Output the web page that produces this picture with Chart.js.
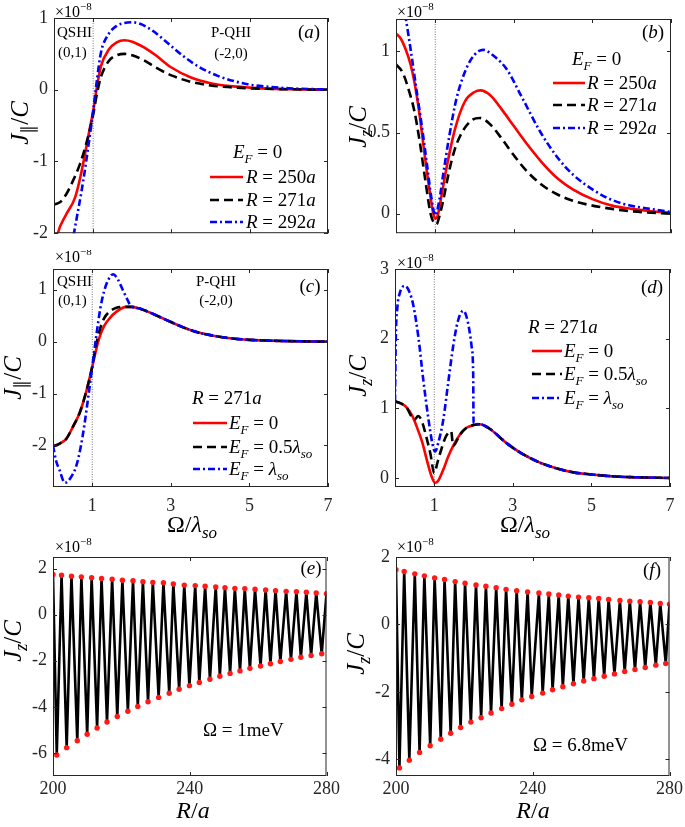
<!DOCTYPE html>
<html>
<head>
<meta charset="utf-8">
<script src="https://cdn.jsdelivr.net/npm/chart.js@4.4.1/dist/chart.umd.min.js"></script>
<style>
  body { margin: 0; background: #fff; }
  #wrap { position: relative; width: 685px; height: 827px; overflow: hidden; }
  #wrap canvas { position: absolute; }
</style>
</head>
<body>
<div id="wrap"></div>
<script>
// ---------- data (values in units of 1e-8) ----------
const omegaTicks = [1, 3, 5, 7];
const radiusTicks = [200, 240, 280];

// (a) J_par/C vs Omega/lambda_so, E_F = 0
const aRedX = [0, 0.1, 0.3, 0.54, 0.7, 0.9, 1.0, 1.1, 1.2, 1.4, 1.6, 1.8, 2.0, 2.3, 2.6, 3.0, 3.5, 4.0, 4.5, 5.0, 5.5, 6.0, 7.0];
const aRedY = [-2.3, -2.0, -1.75, -1.5, -1.15, -0.58, -0.3, 0.05, 0.33, 0.56, 0.66, 0.69, 0.67, 0.59, 0.48, 0.31, 0.17, 0.09, 0.05, 0.03, 0.015, 0.007, 0];
const aBlackX = [0, 0.15, 0.32, 0.45, 0.66, 0.84, 1.0, 1.1, 1.2, 1.4, 1.6, 1.8, 2.0, 2.3, 2.6, 3.0, 3.5, 4.0, 4.5, 5.0, 6.0, 7.0];
const aBlackY = [-1.6, -1.57, -1.45, -1.31, -1.04, -0.72, -0.35, -0.05, 0.18, 0.4, 0.48, 0.5, 0.48, 0.41, 0.31, 0.2, 0.11, 0.06, 0.035, 0.02, 0.007, 0];
const aBlueX = [0.3, 0.51, 0.75, 0.9, 1.0, 1.1, 1.2, 1.4, 1.6, 1.8, 2.0, 2.2, 2.5, 2.8, 3.3, 3.7, 4.2, 4.6, 5.0, 5.5, 6.0, 7.0];
const aBlueY = [-2.65, -2.0, -1.26, -0.7, -0.3, 0.15, 0.52, 0.78, 0.89, 0.93, 0.94, 0.92, 0.83, 0.7, 0.47, 0.32, 0.19, 0.12, 0.07, 0.04, 0.02, 0.003];

// (b) J_z/C, E_F = 0
const bRedX = [0, 0.12, 0.25, 0.37, 0.47, 0.6, 0.72, 0.85, 0.95, 1.0, 1.05, 1.15, 1.3, 1.5, 1.75, 2.0, 2.15, 2.4, 2.7, 3.0, 3.3, 3.7, 4.1, 4.5, 5.0, 5.5, 6.0, 6.5, 7.0];
const bRedY = [1.11, 1.08, 1.01, 0.92, 0.81, 0.61, 0.38, 0.15, 0.0, -0.03, -0.02, 0.1, 0.3, 0.52, 0.69, 0.75, 0.76, 0.73, 0.64, 0.54, 0.44, 0.32, 0.22, 0.15, 0.09, 0.05, 0.03, 0.015, 0.005];
const bBlackX = [0, 0.17, 0.34, 0.47, 0.6, 0.75, 0.88, 0.98, 1.03, 1.1, 1.2, 1.35, 1.5, 1.7, 1.95, 2.14, 2.4, 2.7, 3.0, 3.3, 3.7, 4.1, 4.5, 5.0, 5.5, 6.0, 7.0];
const bBlackY = [0.92, 0.87, 0.75, 0.63, 0.45, 0.2, 0.0, -0.06, -0.065, -0.02, 0.08, 0.26, 0.4, 0.51, 0.58, 0.59, 0.55, 0.46, 0.36, 0.27, 0.18, 0.12, 0.08, 0.05, 0.03, 0.015, 0];
const bBlueX = [0, 0.12, 0.25, 0.38, 0.53, 0.64, 0.78, 0.9, 1.0, 1.1, 1.2, 1.35, 1.54, 1.8, 2.0, 2.22, 2.5, 2.82, 3.2, 3.66, 4.1, 4.51, 5.0, 5.36, 5.8, 6.2, 6.6, 7.0];
const bBlueY = [1.5, 1.35, 1.2, 1.0, 0.75, 0.57, 0.32, 0.1, -0.01, 0.08, 0.24, 0.47, 0.71, 0.9, 0.98, 1.01, 0.97, 0.89, 0.72, 0.51, 0.35, 0.24, 0.15, 0.1, 0.06, 0.04, 0.025, 0.01];

// (c) J_par/C, R = 271a
const cRedX = [0, 0.1, 0.2, 0.34, 0.5, 0.68, 0.85, 1.0, 1.1, 1.2, 1.3, 1.44, 1.6, 1.87, 2.0, 2.2, 2.5, 2.88, 3.3, 3.73, 4.2, 4.58, 5.0, 5.5, 6.0, 7.0];
const cRedY = [-2.01, -1.99, -1.95, -1.87, -1.65, -1.37, -0.95, -0.48, -0.15, 0.12, 0.3, 0.45, 0.57, 0.67, 0.67, 0.64, 0.55, 0.42, 0.28, 0.17, 0.1, 0.06, 0.035, 0.02, 0.01, 0];
const cBlackX = [0, 0.1, 0.2, 0.34, 0.5, 0.68, 0.85, 1.0, 1.1, 1.2, 1.3, 1.44, 1.6, 1.8, 2.0, 2.2, 2.5, 2.88, 3.3, 3.73, 4.2, 4.58, 5.0, 5.5, 6.0, 7.0];
const cBlackY = [-2.01, -1.99, -1.95, -1.87, -1.65, -1.37, -0.95, -0.48, -0.05, 0.25, 0.45, 0.58, 0.65, 0.67, 0.67, 0.64, 0.55, 0.42, 0.28, 0.17, 0.1, 0.06, 0.035, 0.02, 0.01, 0];
const cBlueX = [0, 0.08, 0.17, 0.3, 0.45, 0.59, 0.7, 0.8, 0.9, 1.0, 1.1, 1.2, 1.3, 1.4, 1.53, 1.65, 1.78, 1.9, 1.99, 2.2, 2.5, 2.88, 3.3, 3.73, 4.2, 4.58, 5.0, 5.5, 6.0, 7.0];
const cBlueY = [-2.0, -2.3, -2.48, -2.72, -2.62, -2.4, -2.05, -1.6, -1.05, -0.48, 0.1, 0.62, 0.97, 1.18, 1.3, 1.2, 0.99, 0.8, 0.68, 0.64, 0.55, 0.42, 0.28, 0.17, 0.1, 0.06, 0.035, 0.02, 0.01, 0];

// (d) J_z/C, R = 271a
const dRedX = [0, 0.15, 0.3, 0.45, 0.55, 0.7, 0.81, 0.92, 1.02, 1.1, 1.23, 1.35, 1.48, 1.65, 1.82, 2.0, 2.16, 2.4, 2.84, 3.2, 3.69, 4.1, 4.54, 5.0, 5.5, 6.0, 7.0];
const dRedY = [1.1, 1.07, 1.01, 0.88, 0.74, 0.5, 0.26, 0.04, -0.07, -0.04, 0.12, 0.3, 0.46, 0.62, 0.72, 0.76, 0.77, 0.71, 0.5, 0.36, 0.22, 0.14, 0.08, 0.05, 0.025, 0.012, 0];
const dBlackX = [0, 0.15, 0.3, 0.42, 0.5, 0.59, 0.68, 0.81, 0.9, 1.0, 1.08, 1.19, 1.3, 1.43, 1.48, 1.65, 1.82, 2.0, 2.16, 2.4, 2.84, 3.2, 3.69, 4.1, 4.54, 5.0, 5.5, 6.0, 7.0];
const dBlackY = [1.1, 1.07, 1.01, 0.88, 0.84, 0.89, 0.82, 0.56, 0.35, 0.07, 0.22, 0.43, 0.6, 0.67, 0.46, 0.62, 0.72, 0.76, 0.77, 0.71, 0.5, 0.36, 0.22, 0.14, 0.08, 0.05, 0.025, 0.012, 0];
const dBlueX = [0, 0.02, 0.06, 0.12, 0.25, 0.36, 0.47, 0.6, 0.72, 0.85, 0.95, 1.02, 1.1, 1.23, 1.35, 1.48, 1.6, 1.74, 1.85, 1.95, 1.99, 2.0, 2.16, 2.4, 2.84, 3.2, 3.69, 4.1, 4.54, 5.0, 5.5, 6.0, 7.0];
const dBlueY = [1.1, 2.0, 2.45, 2.65, 2.76, 2.68, 2.47, 2.0, 1.41, 0.85, 0.5, 0.38, 0.5, 0.84, 1.35, 1.89, 2.25, 2.4, 2.25, 1.89, 1.5, 0.79, 0.77, 0.71, 0.5, 0.36, 0.22, 0.14, 0.08, 0.05, 0.025, 0.012, 0];

// (e) J_z/C vs R/a, Omega = 1 meV : maxima and minima of the oscillation
const eTopR = [200.0, 202.5, 205.4, 208.3, 211.3, 214.2, 217.3, 220.3, 223.4, 226.3, 229.2, 232.3, 235.2, 238.4, 241.6, 244.5, 247.6, 250.3, 253.2, 256.1, 259.1, 262.2, 265.1, 268.2, 271.2, 274.1, 277.0, 280.0];
const eTopJ = [1.74, 1.71, 1.67, 1.64, 1.60, 1.57, 1.54, 1.49, 1.47, 1.43, 1.40, 1.38, 1.33, 1.28, 1.26, 1.23, 1.20, 1.17, 1.14, 1.13, 1.10, 1.07, 1.04, 1.01, 0.99, 0.97, 0.94, 0.91];
const eMinR = [201.1, 204.0, 207.1, 210.0, 212.9, 215.8, 218.8, 221.9, 224.8, 227.8, 230.9, 234.0, 236.9, 239.9, 242.8, 245.9, 248.8, 251.8, 254.7, 257.6, 260.7, 263.6, 266.5, 269.6, 272.5, 275.5, 278.6];
const eMinJ = [-6.09, -5.77, -5.47, -5.19, -4.92, -4.66, -4.42, -4.19, -3.98, -3.78, -3.59, -3.41, -3.24, -3.08, -2.94, -2.80, -2.67, -2.55, -2.44, -2.33, -2.23, -2.13, -2.03, -1.94, -1.85, -1.77, -1.70];

// (f) Omega = 6.8 meV
const fTopR = [200.0, 202.4, 205.5, 208.3, 211.3, 214.2, 217.3, 220.2, 223.4, 226.3, 229.3, 232.2, 235.3, 238.5, 241.8, 244.7, 247.6, 250.4, 253.4, 256.4, 259.3, 262.2, 265.5, 268.4, 271.4, 274.4, 277.3, 280.0];
const fTopJ = [1.62, 1.57, 1.50, 1.44, 1.38, 1.33, 1.27, 1.22, 1.17, 1.13, 1.09, 1.04, 1.00, 0.96, 0.93, 0.90, 0.87, 0.84, 0.81, 0.79, 0.77, 0.74, 0.71, 0.69, 0.67, 0.65, 0.62, 0.60];
const fMinR = [201.0, 203.9, 206.9, 210.0, 213.1, 216.0, 218.9, 221.9, 224.9, 227.8, 230.9, 233.9, 236.8, 239.7, 242.9, 245.8, 248.8, 251.9, 254.9, 257.9, 260.9, 263.9, 266.9, 269.9, 272.9, 276.0, 278.9];
const fMinJ = [-4.26, -4.03, -3.80, -3.60, -3.41, -3.23, -3.06, -2.90, -2.77, -2.63, -2.50, -2.37, -2.24, -2.14, -2.04, -1.94, -1.85, -1.76, -1.68, -1.61, -1.54, -1.47, -1.40, -1.34, -1.28, -1.21, -1.16];

// ---------- styling ----------
const FONT = "'Liberation Serif', 'Times New Roman', serif";
const INK = '#262626';
const lineStyles = {
    red:   { color: '#ff0000', dash: [] },
    black: { color: '#000000', dash: [9, 5] },
    blue:  { color: '#0000ff', dash: [7, 3, 2, 3] }
};

const pts = (xs, ys) => xs.map((x, i) => ({ x: x, y: ys[i] }));

// math-ish text: parts = [[text, style]], style r | i | sr | si | up
function drawRich(ctx, parts, x, cy, size, align) {
    const segs = parts.map(([t, s]) => {
        const small = s === 'sr' || s === 'si' || s === 'up';
        const italic = s === 'i' || s === 'si';
        const font = (italic ? 'italic ' : '') + Math.round(small ? size * 0.7 : size) + 'px ' + FONT;
        ctx.font = font;
        let dy = 0;
        if (s === 'sr' || s === 'si') dy = size * 0.25;
        if (s === 'up') dy = -size * 0.45;
        return { t, font, dy, w: ctx.measureText(t).width };
    });
    const total = segs.reduce((a, s) => a + s.w, 0);
    let cx = align === 'center' ? x - total / 2 : (align === 'right' ? x - total : x);
    const base = cy + size * 0.34;
    ctx.textAlign = 'left';
    ctx.textBaseline = 'alphabetic';
    segs.forEach(s => {
        ctx.font = s.font;
        ctx.fillText(s.t, cx, base + s.dy);
        cx += s.w;
    });
}

const EF = [['E', 'i'], ['F', 'si']];
const EXP = [['\u00d710', 'r'], ['\u22128', 'up']];

const panels = [
    {
        box: [0, 0, 342, 250], area: [54, 18, 328, 237],
        x: [0, 7], y: [-2, 1], xTicks: omegaTicks, yTicks: [-2, -1, 0, 1], xLabels: false, vline: true,
        curves: [['blue', aBlueX, aBlueY], ['black', aBlackX, aBlackY], ['red', aRedX, aRedY]],
        texts: [
            { p: EXP, x: 55, y: 12, s: 16 },
            { p: [['J', 'i'], ['\u2225', 'sr'], ['/', 'r'], ['C', 'i']], x: 19, y: 123, s: 25, rot: true },
            { p: [['(', 'r'], ['a', 'i'], [')', 'r']], x: 309, y: 32, s: 19, a: 'center' },
            { p: [['QSHI', 'r']], x: 57, y: 32, s: 15 },
            { p: [['(0,1)', 'r']], x: 58, y: 52, s: 15 },
            { p: [['P-QHI', 'r']], x: 231, y: 32, s: 15, a: 'center' },
            { p: [['(-2,0)', 'r']], x: 231, y: 53, s: 15, a: 'center' }
        ],
        legend: {
            title: [...EF, [' = 0', 'r']], tx: 233, ty: 152, lx: [210, 243], textX: 246,
            rows: [
                ['red', [['R', 'i'], [' = 250', 'r'], ['a', 'i']], 177],
                ['black', [['R', 'i'], [' = 271', 'r'], ['a', 'i']], 200],
                ['blue', [['R', 'i'], [' = 292', 'r'], ['a', 'i']], 222]
            ]
        }
    },
    {
        box: [342, 0, 343, 250], area: [396, 19, 671, 237],
        x: [0, 7], y: [-0.12, 1.2], xTicks: omegaTicks, yTicks: [0, 0.5, 1], xLabels: false, vline: true,
        curves: [['blue', bBlueX, bBlueY], ['black', bBlackX, bBlackY], ['red', bRedX, bRedY]],
        texts: [
            { p: EXP, x: 397, y: 12, s: 16 },
            { p: [['J', 'i'], ['z', 'si'], ['/', 'r'], ['C', 'i']], x: 357, y: 127, s: 25, rot: true },
            { p: [['(', 'r'], ['b', 'i'], [')', 'r']], x: 653, y: 32, s: 19, a: 'center' }
        ],
        legend: {
            title: [...EF, [' = 0', 'r']], tx: 572, ty: 59, lx: [553, 585], textX: 587,
            rows: [
                ['red', [['R', 'i'], [' = 250', 'r'], ['a', 'i']], 83],
                ['black', [['R', 'i'], [' = 271', 'r'], ['a', 'i']], 105],
                ['blue', [['R', 'i'], [' = 292', 'r'], ['a', 'i']], 128]
            ]
        }
    },
    {
        box: [0, 250, 342, 300], area: [53, 269, 328, 487],
        x: [0, 7], y: [-2.8, 1.4], xTicks: omegaTicks, yTicks: [-2, -1, 0, 1], xLabels: true, xPad: 8, vline: true,
        curves: [['blue', cBlueX, cBlueY], ['black', cBlackX, cBlackY], ['red', cRedX, cRedY]],
        texts: [
            { p: EXP, x: 55, y: 257, s: 16 },
            { p: [['J', 'i'], ['\u2225', 'sr'], ['/', 'r'], ['C', 'i']], x: 12, y: 378, s: 25, rot: true },
            { p: [['\u03a9/', 'r'], ['\u03bb', 'i'], ['so', 'si']], x: 192, y: 524, s: 24, a: 'center' },
            { p: [['(', 'r'], ['c', 'i']  , [')', 'r']], x: 310, y: 286, s: 19, a: 'center' },
            { p: [['QSHI', 'r']], x: 57, y: 281, s: 15 },
            { p: [['(0,1)', 'r']], x: 58, y: 300, s: 15 },
            { p: [['P-QHI', 'r']], x: 216, y: 281, s: 15, a: 'center' },
            { p: [['(-2,0)', 'r']], x: 216, y: 300, s: 15, a: 'center' }
        ],
        legend: {
            title: [['R', 'i'], [' = 271', 'r'], ['a', 'i']], tx: 192, ty: 398, lx: [193, 227], textX: 229,
            rows: [
                ['red', [...EF, [' = 0', 'r']], 423],
                ['black', [...EF, [' = 0.5', 'r'], ['\u03bb', 'i'], ['so', 'si']], 447],
                ['blue', [...EF, [' = ', 'r'], ['\u03bb', 'i'], ['so', 'si']], 469]
            ]
        }
    },
    {
        box: [342, 250, 343, 300], area: [395, 269, 670, 487],
        x: [0, 7], y: [-0.13, 3], xTicks: omegaTicks, yTicks: [0, 1, 2, 3], xLabels: true, xPad: 8, vline: true,
        curves: [['blue', dBlueX, dBlueY], ['black', dBlackX, dBlackY], ['red', dRedX, dRedY]],
        texts: [
            { p: EXP, x: 397, y: 263, s: 16 },
            { p: [['J', 'i'], ['z', 'si'], ['/', 'r'], ['C', 'i']], x: 357, y: 376, s: 25, rot: true },
            { p: [['\u03a9/', 'r'], ['\u03bb', 'i'], ['so', 'si']], x: 525, y: 524, s: 24, a: 'center' },
            { p: [['(', 'r'], ['d', 'i'], [')', 'r']], x: 652, y: 287, s: 19, a: 'center' }
        ],
        legend: {
            title: [['R', 'i'], [' = 271', 'r'], ['a', 'i']], tx: 528, ty: 327, lx: [532, 562], textX: 564,
            rows: [
                ['red', [...EF, [' = 0', 'r']], 351],
                ['black', [...EF, [' = 0.5', 'r'], ['\u03bb', 'i'], ['so', 'si']], 374],
                ['blue', [...EF, [' = ', 'r'], ['\u03bb', 'i'], ['so', 'si']], 398]
            ]
        }
    },
    {
        box: [0, 535, 342, 292], area: [53, 557, 328, 776],
        x: [200, 280], y: [-7, 2.5], xTicks: radiusTicks, yTicks: [-6, -4, -2, 0, 2], xLabels: true, xPad: 2,
        osc: [eTopR, eTopJ, eMinR, eMinJ],
        texts: [
            { p: EXP, x: 55, y: 547, s: 16 },
            { p: [['J', 'i'], ['z', 'si'], ['/', 'r'], ['C', 'i']], x: 12, y: 641, s: 25, rot: true },
            { p: [['R', 'i'], ['/', 'r'], ['a', 'i']], x: 193, y: 810, s: 24, a: 'center' },
            { p: [['(', 'r'], ['e', 'i'], [')', 'r']], x: 311, y: 568, s: 19, a: 'center' },
            { p: [['\u03a9 = 1meV', 'r']], x: 203, y: 730, s: 19 }
        ]
    },
    {
        box: [342, 535, 343, 292], area: [396, 557, 670, 776],
        x: [200, 280], y: [-4.5, 2], xTicks: radiusTicks, yTicks: [-4, -2, 0, 2], xLabels: true, xPad: 2,
        osc: [fTopR, fTopJ, fMinR, fMinJ],
        texts: [
            { p: EXP, x: 397, y: 547, s: 16 },
            { p: [['J', 'i'], ['z', 'si'], ['/', 'r'], ['C', 'i']], x: 355, y: 654, s: 25, rot: true },
            { p: [['R', 'i'], ['/', 'r'], ['a', 'i']], x: 533, y: 810, s: 24, a: 'center' },
            { p: [['(', 'r'], ['f', 'i'], [')', 'r']], x: 652, y: 570, s: 19, a: 'center' },
            { p: [['\u03a9 = 6.8meV', 'r']], x: 533, y: 745, s: 19 }
        ]
    }
];

// frame, inward ticks, dotted line, texts and legend
const framePlugin = {
    id: 'frame',
    beforeDatasetsDraw(chart) {
        const cfg = chart.options.plugins.frame;
        if (!cfg.vline) return;
        const { ctx, chartArea: ca } = chart;
        const px = chart.scales.x.getPixelForValue(1);
        ctx.save();
        ctx.strokeStyle = '#555';
        ctx.lineWidth = 0.8;
        ctx.setLineDash([1, 1.5]);
        ctx.beginPath();
        ctx.moveTo(px, ca.top);
        ctx.lineTo(px, ca.bottom);
        ctx.stroke();
        ctx.restore();
    },
    afterDraw(chart) {
        const cfg = chart.options.plugins.frame;
        const { ctx, chartArea: ca } = chart;
        const ox = cfg.box[0], oy = cfg.box[1];
        ctx.save();
        ctx.strokeStyle = INK;
        ctx.lineWidth = 1;
        ctx.setLineDash([]);
        ctx.strokeRect(ca.left + 0.5, ca.top + 0.5, ca.right - ca.left - 1, ca.bottom - ca.top - 1);
        ctx.beginPath();
        cfg.xTicks.forEach(v => {
            const px = Math.round(chart.scales.x.getPixelForValue(v)) + 0.5;
            ctx.moveTo(px, ca.bottom); ctx.lineTo(px, ca.bottom - 4);
            ctx.moveTo(px, ca.top); ctx.lineTo(px, ca.top + 4);
        });
        cfg.yTicks.forEach(v => {
            const py = Math.round(chart.scales.y.getPixelForValue(v)) + 0.5;
            ctx.moveTo(ca.left, py); ctx.lineTo(ca.left + 4, py);
            ctx.moveTo(ca.right, py); ctx.lineTo(ca.right - 4, py);
        });
        ctx.stroke();

        ctx.fillStyle = '#000';
        cfg.texts.forEach(t => {
            if (t.rot) {
                ctx.save();
                ctx.translate(t.x - ox, t.y - oy);
                ctx.rotate(-Math.PI / 2);
                drawRich(ctx, t.p, 0, 0, t.s, 'center');
                ctx.restore();
            } else {
                drawRich(ctx, t.p, t.x - ox, t.y - oy, t.s, t.a || 'left');
            }
        });

        const lg = cfg.legend;
        if (lg) {
            drawRich(ctx, lg.title, lg.tx - ox, lg.ty - oy, 19, 'left');
            lg.rows.forEach(([style, parts, y]) => {
                const st = lineStyles[style];
                ctx.strokeStyle = st.color;
                ctx.lineWidth = 2.6;
                ctx.setLineDash(st.dash);
                ctx.beginPath();
                ctx.moveTo(lg.lx[0] - ox, y - oy);
                ctx.lineTo(lg.lx[1] - ox, y - oy);
                ctx.stroke();
                ctx.setLineDash([]);
                ctx.fillStyle = '#000';
                drawRich(ctx, parts, lg.textX - ox, y - oy, 19, 'left');
            });
        }
        ctx.restore();
    }
};

function buildDatasets(p) {
    if (p.osc) {
        const [topR, topJ, minR, minJ] = p.osc;
        const dots = pts(topR, topJ).concat(pts(minR, minJ));
        const zig = dots.slice().sort((a, b) => a.x - b.x);
        return [
            { data: dots, showLine: false, pointRadius: 2.7, pointBackgroundColor: '#ff1a1a', pointBorderWidth: 0 },
            { data: zig, borderColor: '#000', borderWidth: 2.6, pointRadius: 0, tension: 0 }
        ];
    }
    return p.curves.map(([style, xs, ys]) => ({
        data: pts(xs, ys),
        borderColor: lineStyles[style].color,
        borderDash: lineStyles[style].dash,
        borderWidth: 2.6,
        pointRadius: 0,
        cubicInterpolationMode: 'monotone',
        fill: false
    }));
}

function renderPanel(p) {
    const [L, T, W, H] = p.box;
    const [l, t, r, b] = p.area;
    const canvas = document.createElement('canvas');
    canvas.width = W;
    canvas.height = H;
    canvas.style.left = L + 'px';
    canvas.style.top = T + 'px';
    document.getElementById('wrap').appendChild(canvas);

    const tickFont = { family: FONT, size: 18 };
    new Chart(canvas, {
        type: 'line',
        data: { datasets: buildDatasets(p) },
        options: {
            responsive: false,
            animation: false,
            devicePixelRatio: 1,
            layout: { padding: { left: 0, top: t - T, right: L + W - r, bottom: 0 } },
            plugins: {
                legend: { display: false },
                tooltip: { enabled: false },
                frame: { box: p.box, xTicks: p.xTicks, yTicks: p.yTicks, vline: p.vline, texts: p.texts, legend: p.legend }
            },
            scales: {
                x: {
                    type: 'linear', min: p.x[0], max: p.x[1],
                    grid: { display: false, drawTicks: false }, border: { display: false },
                    ticks: { display: p.xLabels, font: tickFont, color: INK, padding: p.xPad || 0, maxRotation: 0, autoSkip: false, callback: v => String(v) },
                    afterBuildTicks: s => { s.ticks = p.xTicks.map(v => ({ value: v })); },
                    afterFit: s => { s.height = T + H - b; }
                },
                y: {
                    type: 'linear', min: p.y[0], max: p.y[1],
                    grid: { display: false, drawTicks: false }, border: { display: false },
                    ticks: { font: tickFont, color: INK, padding: 6, autoSkip: false, callback: v => String(v) },
                    afterBuildTicks: s => { s.ticks = p.yTicks.map(v => ({ value: v })); },
                    afterFit: s => { s.width = l - L; }
                }
            }
        },
        plugins: [framePlugin]
    });
}

panels.forEach(renderPanel);
</script>
</body>
</html>
